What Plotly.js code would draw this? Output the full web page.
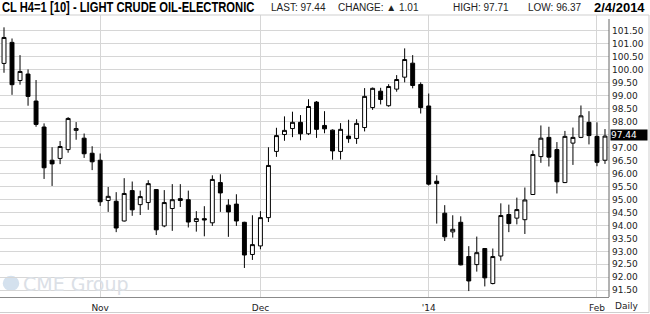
<!DOCTYPE html>
<html>
<head>
<meta charset="utf-8">
<script src="https://cdn.plot.ly/plotly-3.0.1.min.js"></script>
<style>
html,body{margin:0;padding:0;background:#fff;}
#chart{width:650px;height:314px;}
.tall-title{transform-box:fill-box;transform-origin:center;transform:scaleY(1.25);}
</style>
</head>
<body>
<div id="chart"></div>
<script>
var dates = [
 '2013-10-16','2013-10-17','2013-10-18','2013-10-21','2013-10-22','2013-10-23','2013-10-24','2013-10-25','2013-10-28','2013-10-29','2013-10-30','2013-10-31',
 '2013-11-01','2013-11-04','2013-11-05','2013-11-06','2013-11-07','2013-11-08','2013-11-11','2013-11-12','2013-11-13','2013-11-14','2013-11-15','2013-11-18','2013-11-19','2013-11-20','2013-11-21','2013-11-22','2013-11-25','2013-11-26','2013-11-27','2013-11-29',
 '2013-12-02','2013-12-03','2013-12-04','2013-12-05','2013-12-06','2013-12-09','2013-12-10','2013-12-11','2013-12-12','2013-12-13','2013-12-16','2013-12-17','2013-12-18','2013-12-19','2013-12-20','2013-12-23','2013-12-24','2013-12-26','2013-12-27','2013-12-30','2013-12-31',
 '2014-01-02','2014-01-03','2014-01-06','2014-01-07','2014-01-08','2014-01-09','2014-01-10','2014-01-13','2014-01-14','2014-01-15','2014-01-16','2014-01-17','2014-01-21','2014-01-22','2014-01-23','2014-01-24','2014-01-27','2014-01-28','2014-01-29','2014-01-30','2014-01-31',
 '2014-02-03','2014-02-04'
];
var openP = [100.24,101.05,99.58,99.83,98.79,97.79,96.51,96.58,96.92,97.66,97.36,96.78,
 96.51,94.96,94.93,94.17,95.34,94.80,94.88,95.38,93.98,94.65,95.03,94.99,94.15,94.26,94.10,95.65,94.78,94.82,94.12,92.88,
 93.21,94.30,96.85,97.50,97.73,97.97,97.53,98.75,97.85,97.67,96.85,97.44,97.35,97.77,98.54,99.17,98.61,99.25,99.71,100.25,99.43,
 98.60,95.70,94.47,93.75,94.12,92.80,92.49,93.11,91.76,92.82,94.42,94.28,94.22,95.19,96.65,97.39,96.92,95.65,97.17,97.39,97.97,
 97.43,96.51];
var highP = [101.63,101.20,100.56,100.01,99.60,97.93,97.01,97.25,98.17,97.98,97.54,97.05,
 96.77,95.48,95.28,95.82,95.69,95.34,95.74,95.40,95.36,95.59,95.59,95.34,94.55,94.74,95.93,95.97,95.01,95.20,94.14,94.39,
 94.55,97.01,97.76,98.20,98.38,98.25,98.86,98.79,98.40,97.70,97.94,98.07,98.09,99.29,99.31,99.30,99.44,99.79,100.82,100.56,99.51,
 99.08,95.93,94.78,94.39,94.35,93.20,93.57,93.13,93.11,94.85,94.80,95.07,95.46,96.89,97.85,97.80,97.21,97.64,97.77,98.62,98.40,
 97.97,97.71];
var lowP = [99.88,99.03,99.42,98.61,97.80,95.79,95.52,96.36,96.80,97.30,96.60,96.13,
 94.75,94.52,93.74,94.15,94.37,94.40,94.60,93.63,93.93,93.79,94.71,93.92,93.76,93.58,93.98,94.52,93.56,93.98,92.36,92.67,
 93.08,94.13,96.64,97.26,97.40,97.28,97.48,97.37,97.55,96.53,96.54,97.18,97.14,97.62,98.45,98.66,98.57,99.15,99.51,99.28,98.31,
 95.54,94.07,93.40,93.53,92.46,91.47,92.22,91.65,91.73,92.64,93.74,94.04,93.67,95.17,96.41,96.27,95.23,95.63,96.33,97.36,97.12,
 96.28,96.37];
var closeP = [101.24,99.42,99.93,98.97,97.89,96.22,96.37,97.04,98.12,97.73,96.76,96.45,
 94.91,95.12,93.90,95.23,94.60,95.11,95.61,93.83,94.88,94.99,94.96,94.13,94.26,94.21,95.77,95.25,94.52,94.17,92.86,93.26,
 94.30,96.31,97.46,97.66,97.97,97.53,98.58,97.70,97.72,96.87,97.70,97.34,97.93,98.97,99.28,98.85,99.35,99.62,100.39,99.39,98.54,
 95.59,95.61,93.56,93.85,92.48,91.86,92.95,91.98,92.80,94.38,94.07,94.61,94.98,96.73,97.36,96.63,95.68,97.43,97.39,98.22,97.46,
 96.43,97.44];

var monthTickVals = ['2013-11-01','2013-12-02','2014-01-02','2014-02-03'];
var monthTickText = ['Nov','Dec',"'14",'Feb'];
var priceTickVals = [91.5,92,92.5,93,93.5,94,94.5,95,95.5,96,96.5,97,97.5,98,98.5,99,99.5,100,100.5,101,101.5];
var priceTickText = ['91.50','92.00','92.50','93.00','93.50','94.00','94.50','95.00','95.50','96.00','96.50','97.00','97.50','98.00','98.50','99.00','99.50','100.00','100.50','101.00','101.50'];

var headerTitle = 'CL H4=1 [10] - LIGHT CRUDE OIL-ELECTRONIC';
var lastPrice = 97.44, changeVal = 1.01, highVal = 97.71, lowVal = 96.37, dateText = '2/4/2014';

var W = 609, PT = 15, PB = 297, PH = PB - PT;
function px(x){ return x / W; }
function py(y){ return (PB - y) / PH; }

var trace = {
  type: 'candlestick',
  x: dates, open: openP, high: highP, low: lowP, close: closeP,
  increasing: {line: {color: '#000', width: 1}, fillcolor: '#fff'},
  decreasing: {line: {color: '#000', width: 1}, fillcolor: '#000'},
  whiskerwidth: 0,
  hoverinfo: 'skip',
  showlegend: false
};

var small = {family: 'Liberation Sans, Arial, sans-serif', size: 10, color: '#222'};
var axisFont = {family: 'DejaVu Sans, sans-serif', size: 9, color: '#222'};

var layout = {
  width: 650, height: 314,
  margin: {l: 0, r: 41, t: PT, b: 314 - PB, pad: 0},
  paper_bgcolor: '#fff', plot_bgcolor: '#fff',
  showlegend: false,
  boxgap: 0.3,
  xaxis: {
    type: 'category', range: [-0.5, dates.length - 0.5],
    rangeslider: {visible: false},
    tickmode: 'array', tickvals: monthTickVals, ticktext: monthTickText,
    showgrid: true, gridcolor: '#d6d6d6', gridwidth: 1,
    showline: true, linecolor: '#8a8a8a', linewidth: 1,
    ticks: '', tickfont: axisFont, ticklabelstandoff: 2,
    zeroline: false, fixedrange: true
  },
  yaxis: {
    side: 'right', range: [91.242, 102.105],
    tickmode: 'array', tickvals: priceTickVals, ticktext: priceTickText,
    showgrid: true, gridcolor: '#d6d6d6', gridwidth: 1,
    showline: false, ticks: '', tickfont: axisFont, ticklabelstandoff: 2,
    zeroline: false, fixedrange: true
  },
  shapes: [
    {type: 'line', xref: 'paper', yref: 'paper', x0: 0, x1: px(649), y0: 1, y1: 1, line: {color: '#cfcfcf', width: 1}},
    {type: 'line', xref: 'paper', yref: 'paper', x0: px(649), x1: px(649), y0: 1, y1: py(312.5), line: {color: '#cfcfcf', width: 1}},
    {type: 'line', xref: 'paper', yref: 'paper', x0: 0, x1: px(649), y0: py(312.5), y1: py(312.5), line: {color: '#cfcfcf', width: 1}},
    {type: 'line', xref: 'paper', yref: 'paper', x0: 1, x1: 1, y0: 0, y1: py(19), line: {color: '#666', width: 1}},
    {type: 'circle', xref: 'paper', yref: 'paper', x0: px(2.7), x1: px(19.3), y0: py(291), y1: py(275.7), fillcolor: '#d4e1ee', line: {width: 0}, layer: 'below'}
  ],
  annotations: [
    {xref: 'paper', yref: 'paper', x: px(0), y: py(7.5), xanchor: 'left', yanchor: 'middle', showarrow: false, align: 'left',
     text: headerTitle, font: {family: 'Liberation Sans, Arial, sans-serif', size: 11.2, weight: 'bold', color: '#000'}},
    {xref: 'paper', yref: 'paper', x: px(269), y: py(7.5), xanchor: 'left', yanchor: 'middle', showarrow: false,
     text: 'LAST: ' + lastPrice.toFixed(2), font: small},
    {xref: 'paper', yref: 'paper', x: px(336), y: py(7.5), xanchor: 'left', yanchor: 'middle', showarrow: false,
     text: 'CHANGE: \u25B2 ' + changeVal.toFixed(2), font: small},
    {xref: 'paper', yref: 'paper', x: px(451), y: py(7.5), xanchor: 'left', yanchor: 'middle', showarrow: false,
     text: 'HIGH: ' + highVal.toFixed(2), font: small},
    {xref: 'paper', yref: 'paper', x: px(526), y: py(7.5), xanchor: 'left', yanchor: 'middle', showarrow: false,
     text: 'LOW: ' + lowVal.toFixed(2), font: small},
    {xref: 'paper', yref: 'paper', x: px(647), y: py(7.5), xanchor: 'right', yanchor: 'middle', showarrow: false,
     text: dateText, font: {family: 'Liberation Sans, Arial, sans-serif', size: 13, weight: 'bold', color: '#000'}},
    {xref: 'paper', yref: 'paper', x: px(626.5), y: py(306), xanchor: 'center', yanchor: 'middle', showarrow: false,
     text: 'Daily', font: axisFont},
    {xref: 'paper', yref: 'y', x: px(610), y: lastPrice, yshift: 1.5, xanchor: 'left', yanchor: 'middle', showarrow: false,
     text: lastPrice.toFixed(2), font: {family: 'DejaVu Sans, sans-serif', size: 9, color: '#fff'},
     bgcolor: '#000', width: 36, height: 10, align: 'left', borderpad: 0},
    {xref: 'paper', yref: 'paper', x: px(21), y: py(283.5), xanchor: 'left', yanchor: 'middle', showarrow: false,
     text: 'CME Group', font: {family: 'DejaVu Sans, sans-serif', size: 19, color: '#dbe0e6'}}
  ]
};

Plotly.newPlot('chart', [trace], layout, {staticPlot: true, displayModeBar: false}).then(function(gd){
  // the reference title is a tall condensed face: stretch the real text vertically
  var t = gd.querySelector('.annotation[data-index="0"] text.annotation-text');
  if (t) t.classList.add('tall-title');
});
</script>
</body>
</html>
